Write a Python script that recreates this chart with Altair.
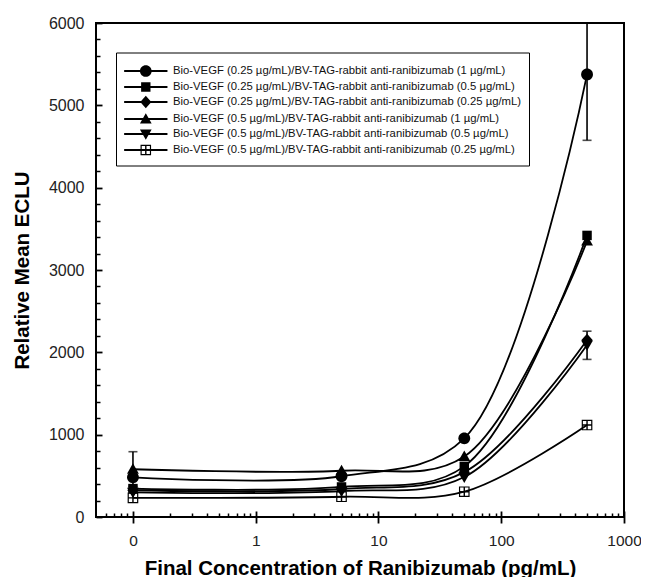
import altair as alt
import pandas as pd

# ---------------- data ----------------
conc = [0, 5, 50, 500]  # pg/mL ; 0 is drawn at the 0.1 position of the log axis
series_names = [
    "Bio-VEGF (0.25 µg/mL)/BV-TAG-rabbit anti-ranibizumab (1 µg/mL)",
    "Bio-VEGF (0.25 µg/mL)/BV-TAG-rabbit anti-ranibizumab (0.5 µg/mL)",
    "Bio-VEGF (0.25 µg/mL)/BV-TAG-rabbit anti-ranibizumab (0.25 µg/mL)",
    "Bio-VEGF (0.5 µg/mL)/BV-TAG-rabbit anti-ranibizumab (1 µg/mL)",
    "Bio-VEGF (0.5 µg/mL)/BV-TAG-rabbit anti-ranibizumab (0.5 µg/mL)",
    "Bio-VEGF (0.5 µg/mL)/BV-TAG-rabbit anti-ranibizumab (0.25 µg/mL)",
]
vals_s1 = [482, 495, 955, 5376]
vals_s2 = [345, 365, 615, 3420]
vals_s3 = [325, 340, 545, 2150]
vals_s4 = [580, 562, 735, 3350]
vals_s5 = [300, 315, 485, 2090]
vals_s6 = [232, 246, 307, 1117]
all_vals = [vals_s1, vals_s2, vals_s3, vals_s4, vals_s5, vals_s6]

err_series = [series_names[3], series_names[0], series_names[4]]
err_conc = [0, 500, 500]
err_lo = [370, 4575, 1914]
err_hi = [793, 6180, 2257]

x_major = [0.1, 1, 10, 100, 1000]
x_minor = [0.06, 0.07, 0.08, 0.09,
           0.2, 0.3, 0.4, 0.5, 0.6, 0.7, 0.8, 0.9,
           2, 3, 4, 5, 6, 7, 8, 9,
           20, 30, 40, 50, 60, 70, 80, 90,
           200, 300, 400, 500, 600, 700, 800, 900]
y_major = [0, 1000, 2000, 3000, 4000, 5000, 6000]
y_minor = [v for v in range(0, 6001, 200) if v % 1000]

# ---------------- tables ----------------
def pos(c):
    return c if c > 0 else 0.1

rows = []
for name, vals in zip(series_names, all_vals):
    for i, (c, v) in enumerate(zip(conc, vals)):
        rows.append({"series": name, "x": pos(c), "y": v, "ord": i})
df = pd.DataFrame(rows)

edf = pd.DataFrame({"series": err_series, "x": [pos(c) for c in err_conc],
                    "lo": err_lo, "hi": err_hi})
cdf = pd.concat([edf.assign(y=edf["lo"]), edf.assign(y=edf["hi"])])

# ---------------- marker shapes ----------------
def circle(cx, r):
    return f"M{cx-r},0A{r},{r},0,1,1,{cx+r},0A{r},{r},0,1,1,{cx-r},0Z"

def square(cx, h):
    return f"M{cx-h},{-h}H{cx+h}V{h}H{cx-h}Z"

def diamond(cx, w, h):
    return f"M{cx},{-h}L{cx+w},0L{cx},{h}L{cx-w},0Z"

def tri_up(cx, w, t, b):
    return f"M{cx},{-t}L{cx+w},{b}H{cx-w}Z"

def tri_down(cx, w, t, b):
    return f"M{cx},{t}L{cx-w},{-b}H{cx+w}Z"

def boxcross(cx, h, a, b):
    outer = f"M{cx-h},{-h}H{cx+h}V{h}H{cx-h}Z"
    holes = (f"M{cx-a},{-a}V{-b}H{cx-b}V{-a}Z"
             f"M{cx+b},{-a}V{-b}H{cx+a}V{-a}Z"
             f"M{cx-a},{b}V{a}H{cx-b}V{b}Z"
             f"M{cx+b},{b}V{a}H{cx+a}V{b}Z")
    return outer + holes

def markers(cx, k=1.0):
    return [circle(cx, 1.0 * k), square(cx, 0.8 * k), diamond(cx, 0.95 * k, 1.05 * k),
            tri_up(cx, 1.0 * k, 1.0 * k, 0.75 * k), tri_down(cx, 1.0 * k, 1.0 * k, 0.75 * k),
            boxcross(cx, 0.9 * k, 0.7 * k, 0.12 * k)]

point_shapes = markers(0)
LEG_LINE = "M-1,-0.16H6.4V0.16H-1Z"
legend_shapes = [LEG_LINE + m for m in markers(2.7, 1.0)]

# ---------------- scales ----------------
FONT = "Liberation Sans"
xs = alt.Scale(type="log", domain=[0.05, 1000], nice=False)
ys = alt.Scale(domain=[0, 6000], nice=False, zero=False)

base = alt.Chart(df)

lines = base.mark_line(interpolate="catmull-rom", color="black", strokeWidth=1.8).encode(
    x=alt.X("x:Q", scale=xs, axis=None),
    y=alt.Y("y:Q", scale=ys, axis=None),
    detail="series:N",
    order="ord:Q",
)

errs = alt.Chart(edf).mark_rule(color="black", strokeWidth=1.6, clip=True).encode(
    x=alt.X("x:Q", scale=xs, axis=None),
    y=alt.Y("lo:Q", scale=ys, axis=None),
    y2="hi:Q",
)

caps = alt.Chart(cdf).mark_tick(color="black", orient="horizontal", size=9,
                                thickness=1.6, clip=True).encode(
    x=alt.X("x:Q", scale=xs, axis=None),
    y=alt.Y("y:Q", scale=ys, axis=None),
)

points = base.mark_point(filled=True, color="black", opacity=1, size=140, strokeWidth=0).encode(
    x=alt.X("x:Q", scale=xs, axis=None),
    y=alt.Y("y:Q", scale=ys, axis=None),
    shape=alt.Shape("series:N", scale=alt.Scale(domain=series_names, range=point_shapes),
                    legend=None),
)

legend_layer = base.transform_filter("false").mark_point(
    filled=True, color="black", opacity=1, strokeWidth=0
).encode(
    shape=alt.Shape(
        "series:N",
        scale=alt.Scale(domain=series_names, range=legend_shapes),
        legend=alt.Legend(
            title=" ", titleFontSize=1, titlePadding=3.5,
            orient="none", legendX=20, legendY=29.5, padding=7,
            strokeColor="black", fillColor="white",
            symbolSize=137, symbolFillColor="black", symbolOpacity=1,
            labelFont=FONT, labelFontSize=11.3, labelColor="#111",
            labelOffset=36, rowPadding=-3.0, labelLimit=0,
        ),
    ),
)

def axis_layer(xaxis, yaxis):
    return base.mark_point(opacity=0).encode(
        x=alt.X("x:Q", scale=xs, axis=xaxis),
        y=alt.Y("y:Q", scale=ys, axis=yaxis),
    )

xlab = axis_layer(
    alt.Axis(orient="bottom", values=x_major, format="d", ticks=False, domain=False,
             grid=False, labelFont=FONT, labelFontSize=15.5, labelColor="#222",
             labelPadding=16, title="Final Concentration of Ranibizumab (pg/mL)",
             titleFont=FONT, titleFontSize=20.5, titleFontWeight="bold",
             titleColor="black", titlePadding=9.5, labelFlush=False),
    None)
xmaj = axis_layer(
    alt.Axis(orient="bottom", values=x_major, labels=False, domain=False, grid=False,
             ticks=True, tickSize=12, offset=-6, tickColor="black", tickWidth=1.8,
             title=None),
    None)
xmin = axis_layer(
    alt.Axis(orient="bottom", values=x_minor, labels=False, domain=False, grid=False,
             ticks=True, tickSize=4, offset=-4, tickColor="black", tickWidth=1.5,
             title=None),
    None)
ylab = axis_layer(
    None,
    alt.Axis(orient="left", values=y_major, format="d", ticks=False, domain=False,
             grid=False, labelFont=FONT, labelFontSize=16, labelColor="#222",
             labelPadding=12, title="Relative Mean ECLU", titleFont=FONT,
             titleFontSize=20.5, titleFontWeight="bold", titleColor="black",
             titlePadding=16))
ymaj = axis_layer(
    None,
    alt.Axis(orient="left", values=y_major, labels=False, domain=False, grid=False,
             ticks=True, tickSize=6, offset=-6, tickColor="black", tickWidth=1.8,
             title=None))
ymin = axis_layer(
    None,
    alt.Axis(orient="left", values=y_minor, labels=False, domain=False, grid=False,
             ticks=True, tickSize=4, offset=-4, tickColor="black", tickWidth=1.5,
             title=None))

chart = (
    alt.layer(lines, errs, caps, points, legend_layer, xlab, xmaj, xmin, ylab, ymaj, ymin)
    .resolve_scale(shape="independent")
    .resolve_axis(x="independent", y="independent")
    .properties(width=528, height=494, autosize="none",
                padding={"left": 88, "top": 15, "right": 17, "bottom": 60})
    .configure_view(stroke="black", strokeWidth=2)
)

chart.save("out.html", embed_options={"renderer": "svg", "actions": False})
